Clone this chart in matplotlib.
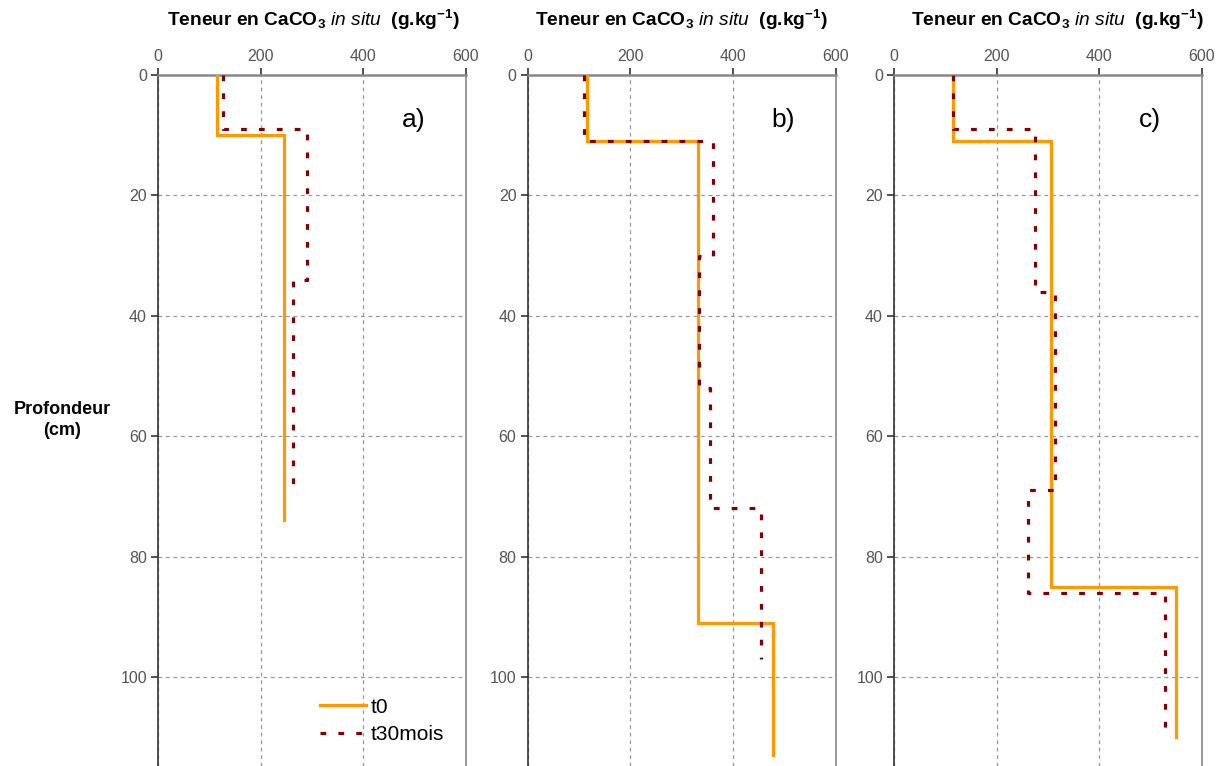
import numpy as np
import matplotlib
matplotlib.use('Agg')
import matplotlib.pyplot as plt

plt.rcParams['font.family'] = ['Liberation Sans', 'DejaVu Sans']
plt.rcParams['mathtext.fontset'] = 'custom'
plt.rcParams['mathtext.rm'] = 'Liberation Sans:bold'
plt.rcParams['mathtext.it'] = 'Liberation Sans:italic'
plt.rcParams['mathtext.bf'] = 'Liberation Sans:bold'

# depth boundaries (cm) and CaCO3 content (g/kg) per layer
a_t0_depth = [0, 10, 74]
a_t0_val = [115, 245]
a_t30_depth = [0, 9, 34, 68]
a_t30_val = [127, 290, 263]

b_t0_depth = [0, 11, 91, 113]
b_t0_val = [115, 333, 478]
b_t30_depth = [0, 11, 30, 52, 72, 97]
b_t30_val = [110, 362, 334, 355, 454]

c_t0_depth = [0, 11, 85, 110]
c_t0_val = [114, 305, 549]
c_t30_depth = [0, 9, 36, 69, 86, 110]
c_t30_val = [114, 274, 313, 261, 527]

panels = [
    ('a)', a_t0_depth, a_t0_val, a_t30_depth, a_t30_val),
    ('b)', b_t0_depth, b_t0_val, b_t30_depth, b_t30_val),
    ('c)', c_t0_depth, c_t0_val, c_t30_depth, c_t30_val),
]

xticks = [0, 200, 400, 600]
yticks = [0, 20, 40, 60, 80, 100]


def profile(depth, val):
    d = np.array(depth)
    xs = np.repeat(val, 2)
    ys = np.column_stack([d[:-1], d[1:]]).ravel()
    return xs, ys


W, H = 1222, 766
fig = plt.figure(figsize=(W / 100, H / 100), dpi=100)

lefts = [158, 527.5, 894]
title_cx = [313, 681, 1057]
top = 75
aw = 308

for i, (lab, d0, v0, d30, v30) in enumerate(panels):
    ax = fig.add_axes([lefts[i] / W, 0, aw / W, 1 - top / H])
    ax.set_xlim(0, 600)
    ax.set_ylim(114.8, 0)
    ax.xaxis.tick_top()
    ax.set_xticks(xticks)
    ax.set_yticks(yticks)
    ax.tick_params(axis='both', labelsize=11.5, labelcolor='#555555', color='#333333',
                   length=5, width=1.2, direction='out', pad=3)
    ax.grid(True, color='#999999', linestyle=(0, (3, 3)), linewidth=0.9)
    ax.set_axisbelow(True)
    ax.spines['bottom'].set_visible(False)
    ax.spines['top'].set_color('#888888')
    ax.spines['top'].set_linewidth(1.8)
    ax.spines['left'].set_color('#333333')
    ax.spines['left'].set_linewidth(1.2)
    ax.spines['right'].set_color('#888888')
    ax.spines['right'].set_linewidth(1.2)

    x, y = profile(d0, v0)
    ax.plot(x, y, color='#FF9900', linewidth=2.3, label='t0', zorder=3,
            solid_joinstyle='miter')
    x, y = profile(d30, v30)
    ax.plot(x, y, color='#800000', linewidth=2.3, linestyle=(0, (1.8, 3.8)),
            label='t30mois', zorder=4)

    ax.text(0.83, 0.935, lab, transform=ax.transAxes, fontsize=19,
            ha='center', va='center', color='black')

    fig.text(title_cx[i] / W, 1 - 20 / H,
             r'Teneur en CaCO$_3$ $\it{in\ situ}$  (g.kg$^{-1}$)',
             ha='center', va='center', fontsize=13.8, fontweight='bold')

    if i == 0:
        ax.legend(loc='lower left', bbox_to_anchor=(0.5, 0.02), frameon=False,
                  fontsize=15, handlelength=2.2, handletextpad=0.2,
                  labelspacing=0.4, borderaxespad=0)

fig.text(62 / W, 1 - 420 / H, 'Profondeur\n(cm)', ha='center', va='center',
         fontsize=13, fontweight='bold', linespacing=1.25)

fig.savefig('out.png', dpi=100)
